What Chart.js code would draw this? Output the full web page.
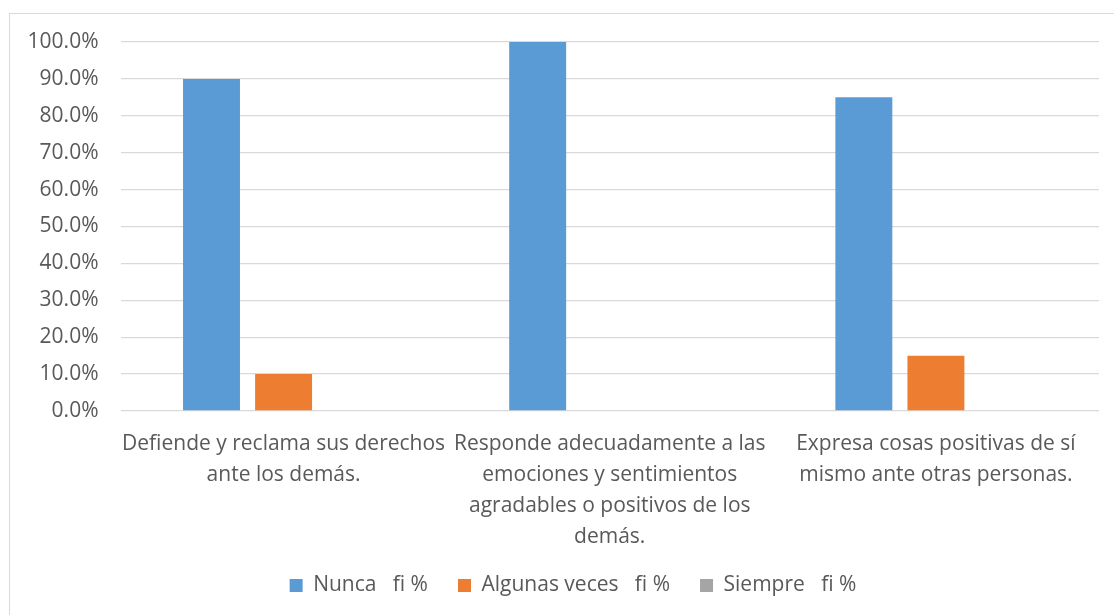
<!DOCTYPE html>
<html>
<head>
<meta charset="utf-8">
<script src="https://cdn.jsdelivr.net/npm/chart.js@4.4.1/dist/chart.umd.min.js"></script>
<style>
  html, body { margin: 0; padding: 0; background: #fff; overflow: hidden; }
  #frame {
    position: absolute; left: 9px; top: 13px;
    width: 1126px; height: 630px;
    border: 1px solid #D9D9D9;
  }
</style>
</head>
<body>
<div id="frame"><canvas id="myChart" width="1126" height="600"></canvas></div>
<script>
// categories (wrapped like the original labels)
const categories = [
    ["Defiende y reclama sus derechos", "ante los demás."],
    ["Responde adecuadamente a las", "emociones y sentimientos", "agradables o positivos de los", "demás."],
    ["Expresa cosas positivas de sí", "mismo ante otras personas."]
];
const nunca = [0.90, 1.00, 0.85];
const algunasVeces = [0.10, 0.00, 0.15];
const siempre = [0.00, 0.00, 0.00];
const seriesNames = ["Nunca   fi %", "Algunas veces   fi %", "Siempre   fi %"];
const yTicks = [0, 0.1, 0.2, 0.3, 0.4, 0.5, 0.6, 0.7, 0.8, 0.9, 1.0];

const textColor = "#595959";
const family = "'Open Sans', sans-serif";

function makeDataset(label, values, color) {
    return {
        label: label,
        data: values,
        backgroundColor: color,
        borderWidth: 0,
        categoryPercentage: 0.663,
        barPercentage: 0.79,
    };
}

// centre the legend on the whole frame, not on the padded area
const legendSpan = {
    id: "legendSpan",
    beforeDraw(chart) {
        if (chart.legend) {
            chart.legend.left = 0;
            chart.legend.right = chart.width;
        }
    },
};

const ctx = document.getElementById("myChart").getContext("2d");
new Chart(ctx, {
    type: "bar",
    data: {
        labels: categories,
        datasets: [
            makeDataset(seriesNames[0], nunca, "#5B9BD5"),
            makeDataset(seriesNames[1], algunasVeces, "#ED7D31"),
            makeDataset(seriesNames[2], siempre, "#A5A5A5"),
        ],
    },
    plugins: [legendSpan],
    options: {
        responsive: false,
        animation: false,
        layout: { padding: { top: 28, right: 37, bottom: 8, left: 0 } },
        plugins: {
            tooltip: { enabled: false },
            legend: {
                position: "bottom",
                labels: {
                    color: textColor,
                    font: { family: family, size: 21 },
                    boxWidth: 13,
                    boxHeight: 13,
                    padding: 30,
                },
            },
        },
        scales: {
            x: {
                grid: { display: false, drawTicks: false },
                border: { display: false },
                ticks: {
                    color: textColor,
                    font: { family: family, size: 21, lineHeight: 1.47 },
                    padding: 18,
                    maxRotation: 0,
                    autoSkip: false,
                },
                afterFit: (scale) => { scale.height = 134; },
            },
            y: {
                min: 0,
                max: 1,
                afterBuildTicks: (scale) => { scale.ticks = yTicks.map(v => ({ value: v })); },
                grid: { color: "#D9D9D9", lineWidth: 1.3, drawTicks: false },
                border: { display: false },
                ticks: {
                    color: textColor,
                    font: { family: family, size: 21, lineHeight: 0.5 },
                    padding: 22,
                    callback: (v) => (v * 100).toFixed(1) + "%",
                },
                afterFit: (scale) => {
                    scale.width = 110.5;
                    scale.paddingTop = 0;
                    scale.paddingBottom = 0;
                },
            },
        },
    },
});
</script>
</body>
</html>
